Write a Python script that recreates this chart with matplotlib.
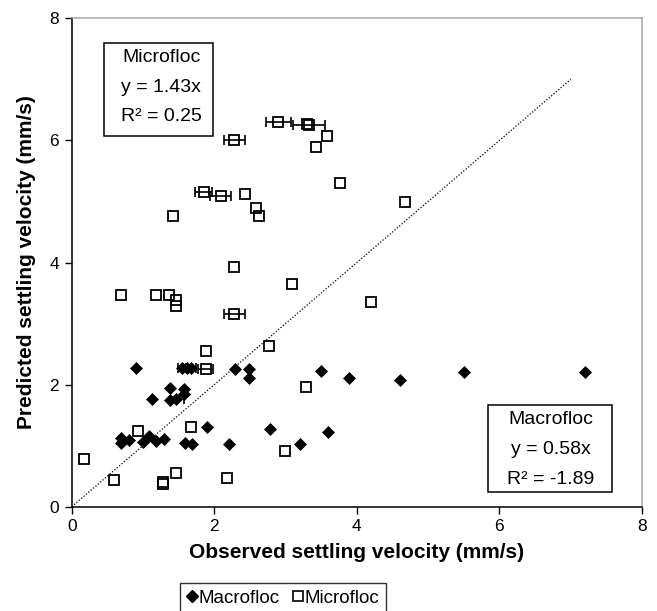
import matplotlib
matplotlib.use("Agg")
import matplotlib.pyplot as plt
from matplotlib.patches import Rectangle
from matplotlib.lines import Line2D
import numpy as np

plt.rcParams['font.family'] = ['Liberation Sans', 'DejaVu Sans']

# Macrofloc data (observed, predicted, x error, y error)
macro_x = [0.90, 1.55, 1.62, 1.68, 2.29, 2.49, 2.49, 3.50, 3.89, 4.60, 5.50, 7.20,
           1.38, 1.57, 1.12, 1.38, 1.47, 1.57,
           1.90, 2.78, 3.59, 2.20, 3.20, 1.59, 1.69,
           0.69, 0.69, 0.81, 1.00, 1.09, 1.18, 1.29]
macro_y = [2.28, 2.27, 2.27, 2.27, 2.26, 2.26, 2.11, 2.22, 2.11, 2.08, 2.20, 2.20,
           1.94, 1.92, 1.76, 1.75, 1.77, 1.84,
           1.31, 1.28, 1.22, 1.03, 1.03, 1.05, 1.02,
           1.12, 1.05, 1.09, 1.06, 1.15, 1.08, 1.11]
macro_xerr = [0, 0.06, 0.06, 0.07, 0, 0, 0, 0, 0, 0, 0, 0,
              0, 0, 0, 0, 0, 0,
              0, 0, 0, 0, 0, 0, 0,
              0, 0, 0, 0, 0, 0, 0]
macro_yerr = [0, 0, 0, 0, 0, 0, 0, 0, 0, 0, 0, 0,
              0, 0, 0, 0, 0, 0.16,
              0, 0, 0, 0, 0, 0, 0,
              0, 0, 0, 0, 0, 0, 0]

# Microfloc data
micro_x = [2.90, 3.30, 3.33, 3.58, 3.43, 2.28, 1.85, 2.09, 2.43, 2.58, 2.63, 1.42,
           3.77, 4.68, 2.28, 3.09, 0.69, 1.18, 1.37, 1.47, 1.47, 4.20, 2.28,
           1.88, 2.77, 1.88, 3.29, 1.67, 0.93, 0.17, 0.59, 1.28, 1.28, 1.47, 2.18, 2.99]
micro_y = [6.30, 6.27, 6.25, 6.08, 5.90, 6.01, 5.16, 5.09, 5.13, 4.90, 4.76, 4.76,
           5.30, 4.99, 3.93, 3.64, 3.47, 3.47, 3.47, 3.39, 3.29, 3.35, 3.15,
           2.55, 2.64, 2.26, 1.96, 1.30, 1.24, 0.78, 0.44, 0.40, 0.38, 0.56, 0.47, 0.92]
micro_xerr = [0.18, 0, 0.22, 0, 0, 0.145, 0.12, 0.15, 0, 0, 0, 0,
              0, 0, 0, 0, 0, 0, 0, 0, 0, 0, 0.15,
              0, 0, 0.105, 0, 0, 0, 0, 0, 0, 0, 0, 0, 0]

ref_x = [0, 7]
ref_y = [0, 7]

x_ticks = [0, 2, 4, 6, 8]
y_ticks = [0, 2, 4, 6, 8]

fig = plt.figure(figsize=(6.57, 6.11), dpi=100)
ax = fig.add_axes([71.7/657, 1-506.7/611, (642-71.7)/657, (506.7-18.3)/611])

ax.plot(ref_x, ref_y, color='black', lw=0.9, linestyle=(0, (1, 1.5)), zorder=1)

mx = np.array(macro_x); my = np.array(macro_y)
mxe = np.array(macro_xerr); mye = np.array(macro_yerr)
ux = np.array(micro_x); uy = np.array(micro_y); uxe = np.array(micro_xerr)

ax.plot(mx, my, linestyle='none', marker='D', ms=6.0, mfc='black', mec='black',
        mew=0.5, zorder=3)
ax.plot(ux, uy, linestyle='none', marker='s', ms=6.8, mfc='none', mec='black',
        mew=1.3, zorder=3)

sel = mxe > 0
ax.errorbar(mx[sel], my[sel], xerr=mxe[sel], fmt='none', ecolor='black',
            elinewidth=1.2, capsize=3.6, capthick=1.2, zorder=4)
sel = mye > 0
ax.errorbar(mx[sel], my[sel], yerr=mye[sel], fmt='none', ecolor='black',
            elinewidth=1.2, capsize=0, zorder=4)
sel = uxe > 0
ax.errorbar(ux[sel], uy[sel], xerr=uxe[sel], fmt='none', ecolor='black',
            elinewidth=1.2, capsize=3.6, capthick=1.2, zorder=4)

ax.set_xlim(0, 8)
ax.set_ylim(0, 8)
ax.set_xticks(x_ticks)
ax.set_yticks(y_ticks)
ax.tick_params(direction='out', length=5, width=1.0, labelsize=12.5, pad=4)
for s in ['left', 'bottom']:
    ax.spines[s].set_color('black')
    ax.spines[s].set_linewidth(1.1)
for s in ['top', 'right']:
    ax.spines[s].set_color('#a8a8a8')
    ax.spines[s].set_linewidth(1.1)

ax.set_xlabel('Observed settling velocity (mm/s)', fontsize=15, fontweight='bold', labelpad=6)
ax.set_ylabel('Predicted settling velocity (mm/s)', fontsize=15, fontweight='bold', labelpad=10)

# Annotation boxes
def box(x0, y0, x1, y1, lines, cx, ys):
    fig.patches.append(Rectangle((x0/657, 1-y1/611), (x1-x0)/657, (y1-y0)/611,
                                 transform=fig.transFigure, fill=False,
                                 edgecolor='black', lw=1.1, zorder=5))
    for t, yy in zip(lines, ys):
        fig.text(cx/657, 1-yy/611, t, ha='center', va='center', fontsize=14)

box(104, 42.7, 213, 136, ['Microfloc', 'y = 1.43x', 'R² = 0.25'], 161, [58, 88, 117])
box(487.5, 405, 612, 492, ['Macrofloc', 'y = 0.58x', 'R² = -1.89'], 551, [420, 449.5, 479])

handles = [Line2D([], [], linestyle='none', marker='D', ms=6.0, mfc='black', mec='black'),
           Line2D([], [], linestyle='none', marker='s', ms=6.8, mfc='none', mec='black', mew=1.2)]
leg = fig.legend(handles, ['Macrofloc', 'Microfloc'], loc='upper center',
                 bbox_to_anchor=(283/657, 1-583/611), ncol=2, fontsize=13.5,
                 frameon=True, fancybox=False, edgecolor='black', handlelength=0.6,
                 handletextpad=0.05, columnspacing=0.7, borderpad=0.35,
                 borderaxespad=0)
leg.get_frame().set_linewidth(1.0)

fig.savefig('out.png', dpi=100)
